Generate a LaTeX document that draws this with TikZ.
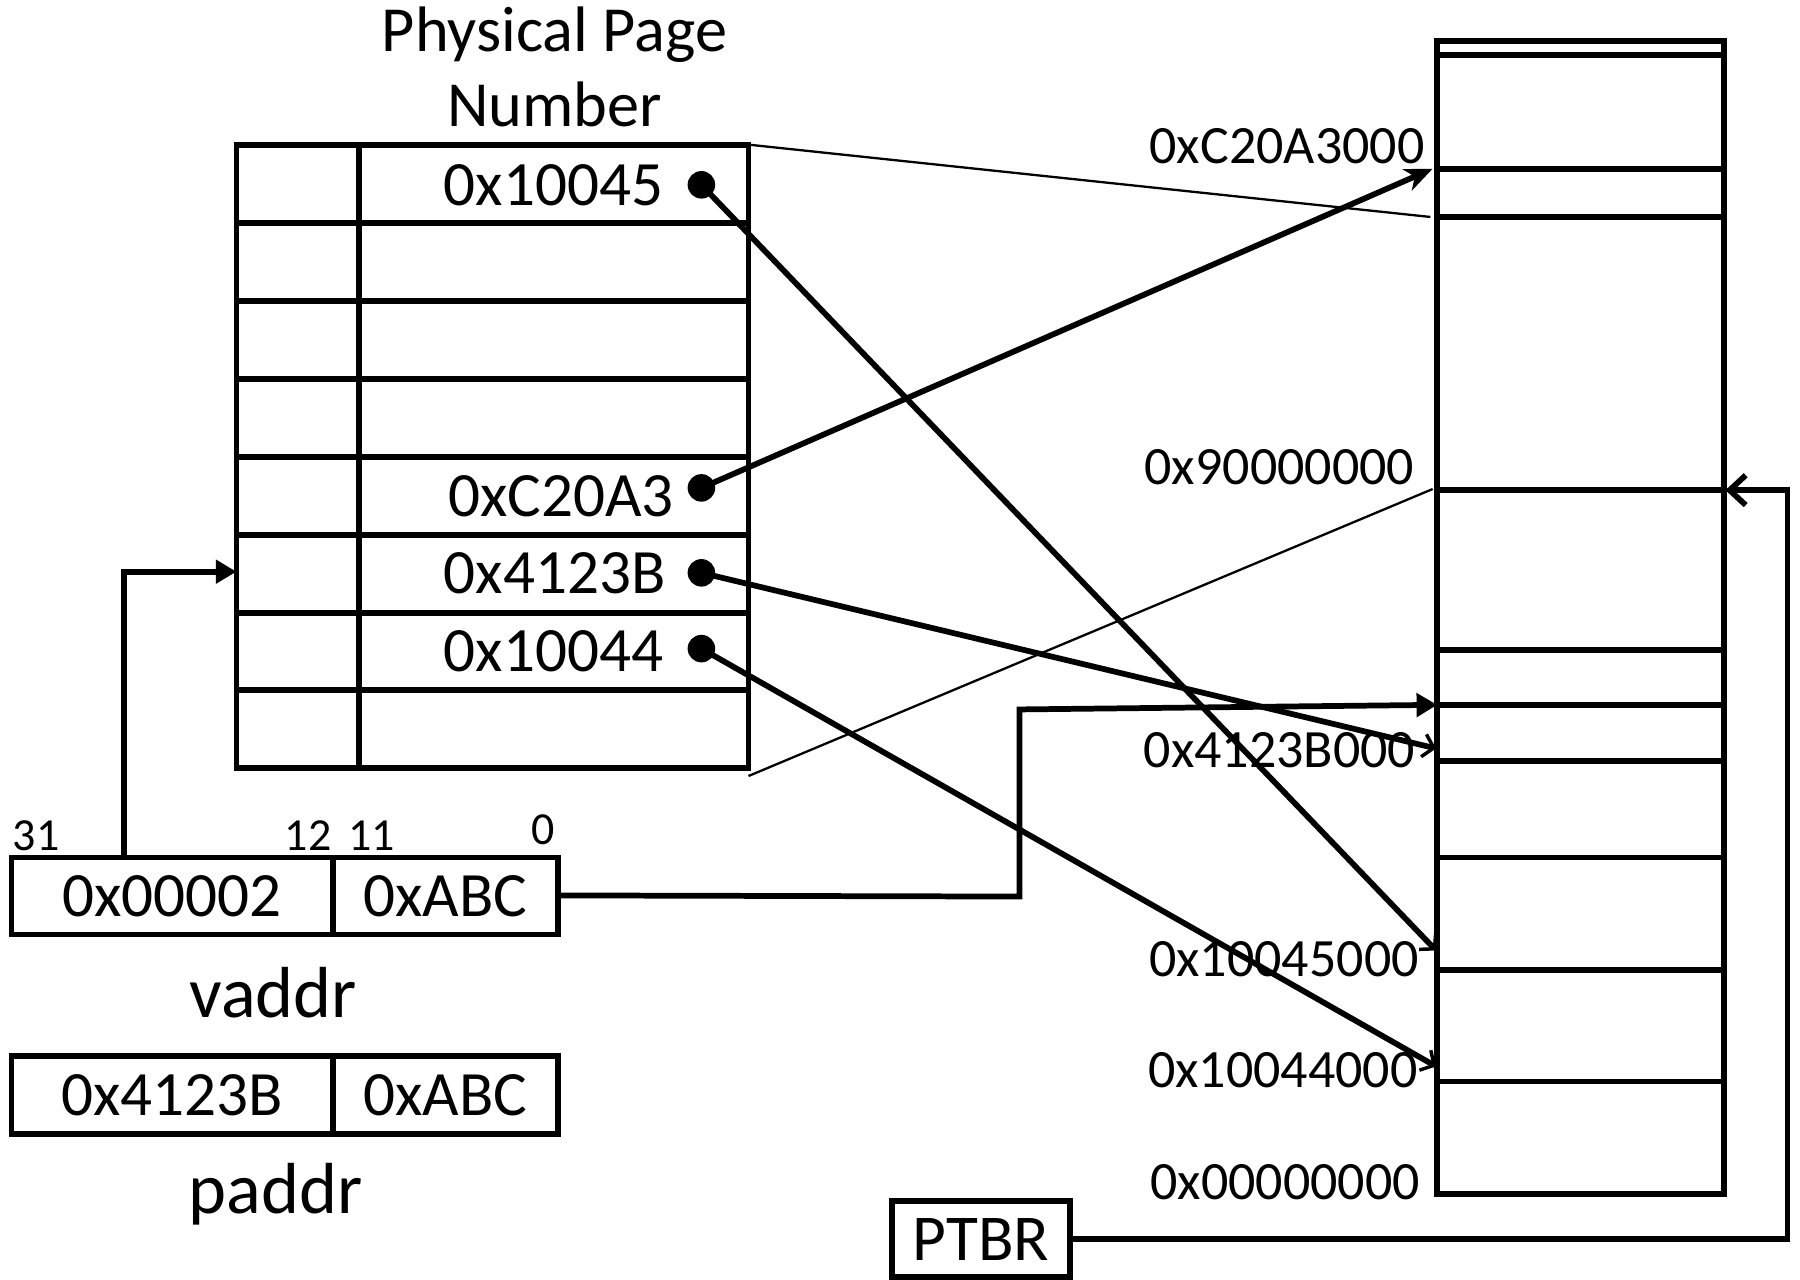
\documentclass[tikz,border=0pt]{standalone}
\usepackage{fontspec}
\setmainfont{Carlito}
\usetikzlibrary{arrows.meta}
\begin{document}
\begin{tikzpicture}[x=1pt,y=-1pt,
  thickline/.style={line width=5pt},
  thinline/.style={line width=2pt},
  big/.style={font=\fontsize{55}{61}\selectfont, inner sep=0pt},
  title/.style={font=\fontsize{56}{62}\selectfont, inner sep=0pt},
  huge/.style={font=\fontsize{63}{70}\selectfont, inner sep=0pt},
  memlab/.style={font=\fontsize{47}{52}\selectfont, inner sep=0pt, anchor=base east},
  bitlab/.style={font=\fontsize{40}{44}\selectfont, inner sep=0pt, anchor=base west},
  dotnode/.style={circle, fill=black, inner sep=0pt, minimum size=24pt},
  tri/.style={-{Triangle[length=18pt,width=20pt]}},
  barb/.style={-{Straight Barb[length=9pt,width=20pt,line width=3pt]}},
  stl/.style={-{Stealth[length=24pt,width=20pt,inset=7pt]}},
  openbarb/.style={-{Straight Barb[length=14pt,width=26pt]}},
]
\useasboundingbox (0,0) rectangle (1568,1115);

% ---------- title ----------
\node[title, anchor=base] (t1) at (483,45) {Physical Page};
\node[title, anchor=base] (t2) at (483,110) {Number};

% ---------- page table ----------
\draw[thickline] (206,126) rectangle (652,669);
\draw[thickline] (313,126) -- (313,669);
\foreach \yy in {194,262,330,398,466,534,601}
  \draw[thickline] (206,\yy) -- (652,\yy);
\coordinate (ptTR) at (652,126);
\coordinate (ptBR) at (652,676);
\coordinate (ptRow) at (206,498);

\node[big, anchor=base east] (ppn1) at (578,179) {0x10045};
\node[big, anchor=base east] (ppn5) at (587,450) {0xC20A3};
\node[big, anchor=base east] (ppn6) at (580,517) {0x4123B};
\node[big, anchor=base east] (ppn7) at (578,585) {0x10044};
\node[dotnode] (d1) at (611,161) {};
\node[dotnode] (d5) at (611,425) {};
\node[dotnode] (d6) at (611,499) {};
\node[dotnode] (d7) at (611,565) {};

% ---------- physical memory ----------
\draw[thickline] (1252,36) rectangle (1502,1040);
\foreach \yy in {48,147,189,427,566,614,663,747,845,942}
  \draw[thickline] (1252,\yy) -- (1502,\yy);

\node[memlab] (mC2) at (1241,142) {0xC20A3000};
\node[memlab] (m90) at (1232,422) {0x90000000};
\node[memlab] (m41) at (1233,669) {0x4123B000};
\node[memlab] (m45) at (1236,851) {0x10045000};
\node[memlab] (m44) at (1235,947) {0x10044000};
\node[memlab] (m00) at (1237,1045) {0x00000000};

\coordinate (pC2) at (1248,147);
\coordinate (p41) at (1251,652);
\coordinate (p45) at (1251,828);
\coordinate (p44) at (1251,929);
\coordinate (pOff) at (1252,614);
\coordinate (thinTop) at (1246,189);
\coordinate (thinBot) at (1248,426);
\coordinate (memR) at (1503,427);

% ---------- page table to memory ----------
\draw[thinline] (ptTR) -- (thinTop);
\draw[thinline] (ptBR) -- (thinBot);
\draw[thickline, barb] (d1.center) -- (p45);
\draw[thickline, stl] (d5.center) -- (pC2);
\draw[thickline, barb] (d6.center) -- (p41);
\draw[thickline, barb] (d7.center) -- (p44);

% ---------- vaddr / paddr ----------
\draw[thickline] (10,747) rectangle (486,814);
\draw[thickline] (290,747) -- (290,814);
\node[big, anchor=base] (vpn) at (150,798) {0x00002};
\node[big, anchor=base] (voff) at (388,798) {0xABC};
\node[huge, anchor=base] (vlab) at (238,886) {vaddr};
\coordinate (vTop) at (108,747);
\coordinate (vRight) at (486,780);

\node[bitlab] (b31) at (11,741) {31};
\node[bitlab] (b12) at (248,741) {12};
\node[bitlab] (b11) at (303,741) {11};
\node[bitlab] (b0) at (463,736) {0};

\draw[thickline] (10,920) rectangle (486,988);
\draw[thickline] (290,920) -- (290,988);
\node[big, anchor=base] (ppn) at (150,972) {0x4123B};
\node[big, anchor=base] (poff) at (388,972) {0xABC};
\node[huge, anchor=base] (plab) at (240,1057) {paddr};

\draw[thickline, tri] (vTop) -- (108,498) -- (ptRow);
\draw[thickline, tri] (vRight) -- (888,781) -- (888,618) -- (pOff);

% ---------- PTBR ----------
\node[draw, thickline, font=\fontsize{57}{62}\selectfont, inner sep=0pt, minimum width=155pt, minimum height=66pt] (ptbr) at (854.5,1079.5) {PTBR};
\draw[thickline, openbarb] (ptbr.east) -- (1557,1079.5) -- (1557,427) -- (memR);
\end{tikzpicture}
\end{document}
